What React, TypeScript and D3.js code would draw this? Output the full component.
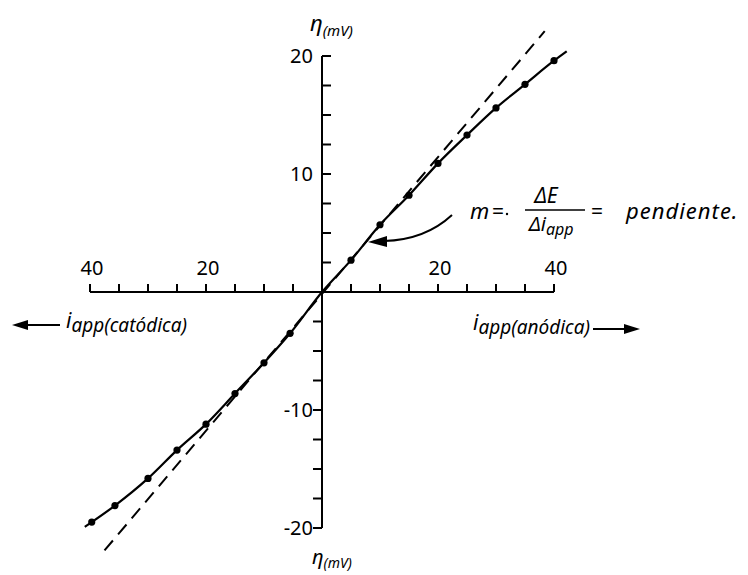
import React from "react";
import * as d3 from "d3";

// anodic (right) measured points: i_app, eta (mV)
const anodicI = [5, 10, 15, 20, 25, 30, 35, 40];
const anodicEta = [2.7, 5.7, 8.2, 10.9, 13.3, 15.6, 17.6, 19.6];
// cathodic (left) measured points
const cathodicI = [-5.5, -10, -15, -20, -25, -30, -35.7, -39.7];
const cathodicEta = [-3.5, -6.0, -8.6, -11.2, -13.4, -15.8, -18.1, -19.5];
// curve ends beyond last points
const curveEndI = [-40.9, 42.2];
const curveEndEta = [-19.9, 20.4];
// dashed tangent line (slope at origin)
const tangentI = [-37.5, 38.4];
const tangentEta = [-21.9, 22.1];

const xTickValues = [-40, -35, -30, -25, -20, -15, -10, -5, 0, 5, 10, 15, 20, 25, 30, 35, 40];
const xLabelValues = [-40, -20, 20, 40];
const yTickValues = [-20, -17.5, -15, -12.5, -10, -7.5, -5, -2.5, 2.5, 5, 7.5, 10, 12.5, 15, 17.5, 20];
const yLabelValues = [-20, -10, 10, 20];

const FONT = "'Noto Sans', 'DejaVu Sans', sans-serif";

export default function App() {
  const x = d3.scaleLinear().domain([-40, 40]).range([90, 554]);
  const y = d3.scaleLinear().domain([-20, 20]).range([528, 56]);

  const pts: [number, number][] = [];
  pts.push([curveEndI[0], curveEndEta[0]]);
  for (let k = cathodicI.length - 1; k >= 0; k--) pts.push([cathodicI[k], cathodicEta[k]]);
  pts.push([0, 0]);
  for (let k = 0; k < anodicI.length; k++) pts.push([anodicI[k], anodicEta[k]]);
  pts.push([curveEndI[1], curveEndEta[1]]);

  const line = d3
    .line<[number, number]>()
    .x((d) => x(d[0]))
    .y((d) => y(d[1]))
    .curve(d3.curveMonotoneX);

  const tangent = d3
    .line<[number, number]>()
    .x((d) => x(d[0]))
    .y((d) => y(d[1]))([
    [tangentI[0], tangentEta[0]],
    [tangentI[1], tangentEta[1]],
  ]);

  const x0 = x(0);
  const y0 = y(0);
  const stroke = "#000";

  const allPts: [number, number][] = [
    ...anodicI.map((v, k) => [v, anodicEta[k]] as [number, number]),
    ...cathodicI.map((v, k) => [v, cathodicEta[k]] as [number, number]),
  ];

  return (
    <svg
      width={748}
      height={575}
      style={{ position: "absolute", left: 0, top: 0, background: "#fff" }}
      fontFamily={FONT}
    >
      <rect width={748} height={575} fill="#fff" />
      {/* vertical axis */}
      <line x1={x0} x2={x0} y1={y(20)} y2={y(-20)} stroke={stroke} strokeWidth={2} />
      {yTickValues.map((v) => (
        <line
          key={"yt" + v}
          x1={x0}
          x2={v > 0 ? x0 + 9 : x0 - 9}
          y1={y(v)}
          y2={y(v)}
          stroke={stroke}
          strokeWidth={2}
        />
      ))}
      {yLabelValues.map((v) => (
        <text
          key={"yl" + v}
          x={x0 - 9}
          y={y(v)}
          dy="0.36em"
          textAnchor="end"
          fontSize={20}
        >
          {v < 0 ? "-" + Math.abs(v) : String(v)}
        </text>
      ))}
      {/* horizontal axis */}
      <line x1={x(-40)} x2={x(40)} y1={y0} y2={y0} stroke={stroke} strokeWidth={2} />
      {xTickValues.map((v) => (
        <line
          key={"xt" + v}
          x1={x(v)}
          x2={x(v)}
          y1={y0}
          y2={y0 - 8}
          stroke={stroke}
          strokeWidth={2}
        />
      ))}
      {xLabelValues.map((v) => (
        <text key={"xl" + v} x={x(v) + 2} y={y0 - 17} textAnchor="middle" fontSize={20}>
          {String(Math.abs(v))}
        </text>
      ))}

      {/* axis titles */}
      <text x={310} y={31} fontSize={22} fontStyle="italic">
        η<tspan fontSize={15} dy={5}>(mV)</tspan>
      </text>
      <text x={312} y={564} fontSize={20} fontStyle="italic">
        η<tspan fontSize={14} dy={4}>(mV)</tspan>
      </text>

      {/* cathodic label */}
      <line x1={24} x2={60} y1={325} y2={325} stroke={stroke} strokeWidth={2} />
      <path d="M12,325 L28,320 L28,330 Z" fill={stroke} />
      <text x={66} y={328} fontSize={21} fontStyle="italic">
        i<tspan fontSize={19} dy={4}>app(catódica)</tspan>
      </text>
      {/* anodic label */}
      <text x={473} y={330} fontSize={21} fontStyle="italic">
        i<tspan fontSize={19} dy={4}>app(anódica)</tspan>
      </text>
      <line x1={593} x2={626} y1={329} y2={329} stroke={stroke} strokeWidth={2} />
      <path d="M640,329 L624,324 L624,334 Z" fill={stroke} />

      {/* dashed tangent */}
      <path d={tangent || ""} fill="none" stroke={stroke} strokeWidth={2} strokeDasharray="13 8" />
      {/* curve */}
      <path d={line(pts) || ""} fill="none" stroke={stroke} strokeWidth={2.2} />
      {allPts.map((d, k) => (
        <circle key={"p" + k} cx={x(d[0])} cy={y(d[1])} r={3.6} fill={stroke} />
      ))}

      {/* annotation arrow */}
      <path d="M452,215 Q425,240 384,241" fill="none" stroke={stroke} strokeWidth={2} />
      <path d="M368,242 L387,236 L387,247 Z" fill={stroke} />

      {/* formula */}
      <text x={470} y={219} fontSize={22} fontStyle="italic">
        m
      </text>
      <text x={492} y={219} fontSize={21}>
        =
      </text>
      <circle cx={507} cy={214} r={1.2} fill={stroke} />
      <text x={546} y={203} fontSize={21} fontStyle="italic" textAnchor="middle">
        ΔE
      </text>
      <line x1={525} x2={585} y1={210} y2={210} stroke={stroke} strokeWidth={1.6} />
      <text x={529} y={231} fontSize={20} fontStyle="italic">
        Δi<tspan fontSize={16} dy={4}>app</tspan>
      </text>
      <text x={591} y={219} fontSize={21}>
        =
      </text>
      <text x={626} y={219} fontSize={22} fontStyle="italic" letterSpacing={1}>
        pendiente.
      </text>
    </svg>
  );
}
